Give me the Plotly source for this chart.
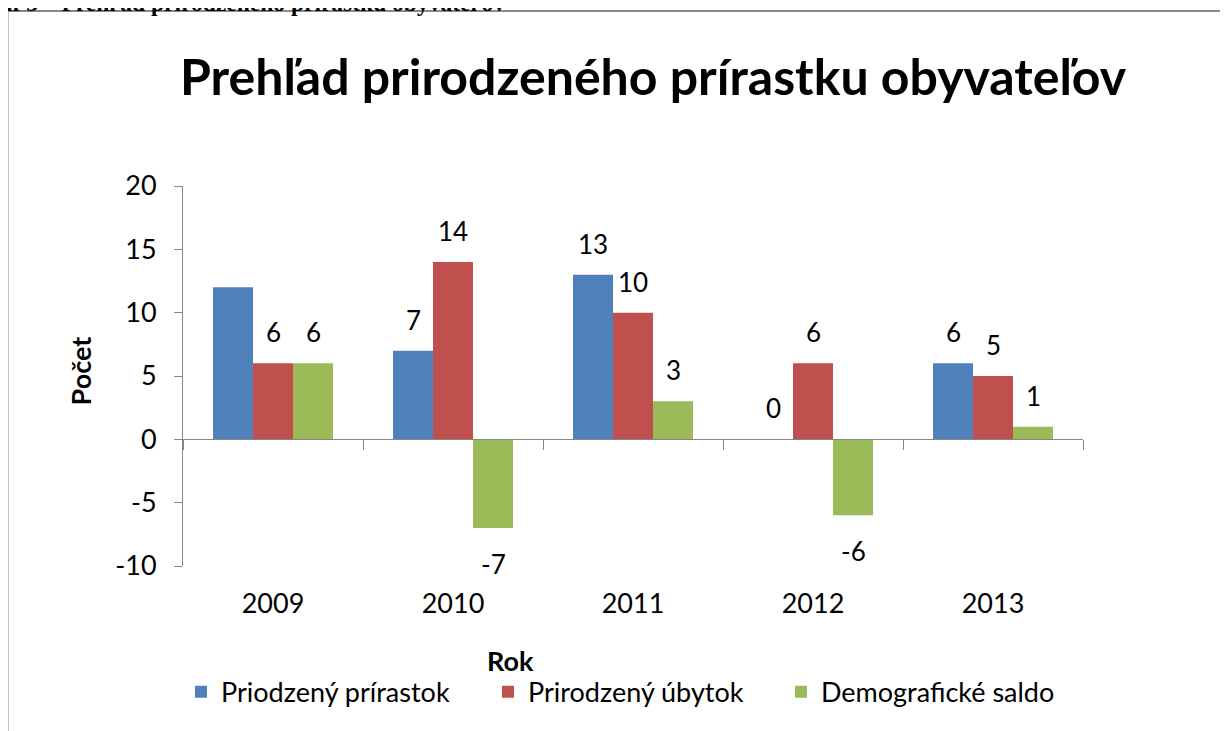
import plotly.graph_objects as go

years = ["2009", "2010", "2011", "2012", "2013"]
prirastok = [12, 7, 13, 0, 6]
ubytok = [6, 14, 10, 6, 5]
saldo = [6, -7, 3, -6, 1]
series_names = ["Priodzený prírastok", "Prirodzený úbytok", "Demografické saldo"]
series_colors = ["#4F81BD", "#C0504D", "#9BBB59"]
# which data labels are shown in the original (blue 2009 has no label)
label_shown = [
    [False, True, True, True, True],
    [True, True, True, True, True],
    [True, True, True, True, True],
]
y_tickvals = [-10, -5, 0, 5, 10, 15, 20]
y_ticktext = ["-10", "-5", "0", "5", "10", "15", "20"]
title_text = "Prehľad prirodzeného prírastku obyvateľov"
caption_text = "Graf 3 – Prehľad prirodzeného prírastku obyvateľov"

# page offset of the figure (body margin of the page)
OX, OY = 8, 8
W, H = 1228 - OX, 731 - OY
L, T = 183 - OX, 185.5 - OY
R = W - (1083 - OX)
B = H - (565.7 - OY)
PW, PH = W - L - R, H - T - B

def px(x):
    return (x - OX - L) / PW

def py(y):
    return (H - B - (y - OY)) / PH

FONT = "Lato, Carlito, Calibri, sans-serif"
FS = 27

fig = go.Figure()
all_series = [prirastok, ubytok, saldo]
legend_ids = ["legend", "legend2", "legend3"]
for name, vals, col, lg in zip(series_names, all_series, series_colors, legend_ids):
    fig.add_trace(go.Bar(x=years, y=vals, name=name, marker=dict(color=col, line=dict(width=0)),
                         hoverinfo="x+y", legend=lg))

# invisible helper trace for the axis line drawn at y = 0
fig.add_trace(go.Scatter(x=years, y=[0] * len(years), xaxis="x2", mode="markers",
                         marker=dict(opacity=0), showlegend=False, hoverinfo="skip"))

bar_px = PW / len(years) * (1 - 1 / 3) / 3
annotations = []
for si, vals in enumerate(all_series):
    for ci, v in enumerate(vals):
        if not label_shown[si][ci]:
            continue
        annotations.append(dict(
            x=ci, y=v, xref="x", yref="y", text=str(v), showarrow=False,
            xshift=(si - 1) * bar_px, yshift=31 if v >= 0 else -36,
            yanchor="middle", xanchor="center",
            font=dict(family=FONT, size=FS - 1, color="#000000")))

annotations += [
    dict(x=px(653), y=py(75), xref="paper", yref="paper", text="<b>" + title_text + "</b>",
         showarrow=False, xanchor="center", yanchor="middle",
         font=dict(family=FONT, size=50, color="#000000")),
    dict(x=px(80), y=py(371), xref="paper", yref="paper", text="<b>Počet</b>", textangle=-90,
         showarrow=False, xanchor="center", yanchor="middle",
         font=dict(family=FONT, size=FS, color="#000000")),
    dict(x=px(510), y=py(660), xref="paper", yref="paper", text="<b>Rok</b>",
         showarrow=False, xanchor="center", yanchor="middle",
         font=dict(family=FONT, size=FS, color="#000000")),
    dict(x=px(507), y=py(17), xref="paper", yref="paper", text="<b>" + caption_text + "</b>",
         showarrow=False, xanchor="right", yanchor="bottom",
         font=dict(family="Liberation Serif, Times New Roman, serif", size=23.5, color="#000000")),
]

shapes = [
    dict(type="line", xref="paper", yref="paper", x0=px(7.5), x1=px(7.5), y0=py(10), y1=py(740),
         line=dict(color="#8A8A8A", width=2)),
    dict(type="line", xref="paper", yref="paper", x0=px(6.5), x1=px(1240), y0=py(10.5), y1=py(10.5),
         line=dict(color="#8A8A8A", width=2)),
]

legend_common = dict(orientation="h", yanchor="middle", xanchor="left",
                     font=dict(family=FONT, size=FS, color="#000000"), itemwidth=30,
                     bgcolor="rgba(0,0,0,0)")

fig.update_layout(
    width=W, height=H,
    margin=dict(l=L, r=R, t=T, b=B),
    paper_bgcolor="#FFFFFF", plot_bgcolor="#FFFFFF",
    barmode="group", bargap=1 / 3, bargroupgap=0,
    font=dict(family=FONT, size=FS, color="#000000"),
    showlegend=True,
    legend=dict(x=px(181), y=py(692), **legend_common),
    legend2=dict(x=px(488), y=py(692), **legend_common),
    legend3=dict(x=px(781), y=py(692), **legend_common),
    xaxis=dict(type="category", range=[-0.5, 4.5], showline=False, ticks="", showgrid=False,
               zeroline=False, ticklabelstandoff=19,
               tickfont=dict(family=FONT, size=FS, color="#000000")),
    xaxis2=dict(type="category", range=[-0.5, 4.5], overlaying="x", matches="x", anchor="free",
                position=1 / 3, side="bottom", showline=True, linecolor="#868686", linewidth=1,
                ticks="outside", ticklen=10, tickcolor="#868686", tickson="boundaries",
                showticklabels=False, showgrid=False, zeroline=False),
    yaxis=dict(range=[-10, 20], tickvals=y_tickvals, ticktext=y_ticktext, showline=True,
               linecolor="#868686", linewidth=1,
               ticks="outside", ticklen=8, tickcolor="#868686", showgrid=False, zeroline=False,
               ticklabelstandoff=12,
               tickfont=dict(family=FONT, size=FS, color="#000000")),
    annotations=annotations,
    shapes=shapes,
)

fig.write_html("out.html")
